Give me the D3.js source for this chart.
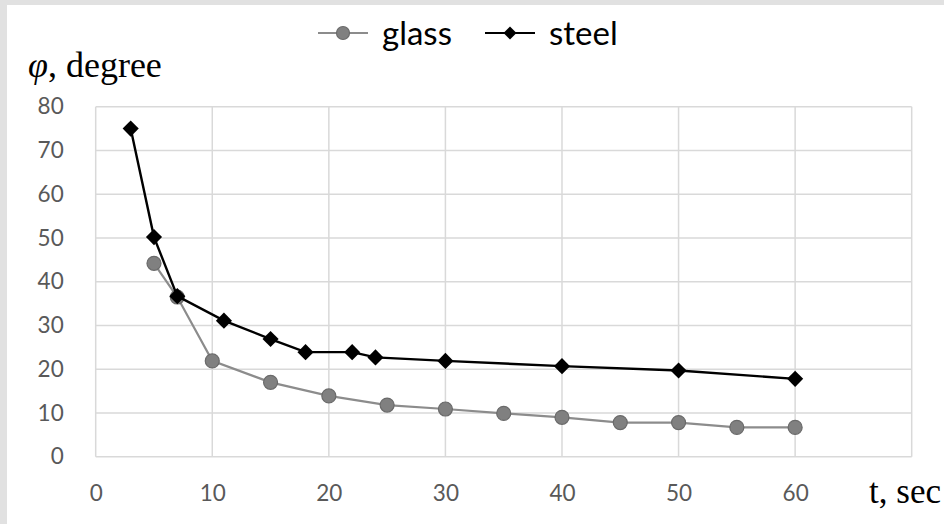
<!DOCTYPE html>
<html><head><meta charset="utf-8">
<script src="https://cdn.jsdelivr.net/npm/d3@7"></script>
<style>html,body{margin:0;padding:0;background:#e1e1e1;}svg{display:block;}</style>
</head><body>
<script>
const glassT = [5, 7, 10, 15, 20, 25, 30, 35, 40, 45, 50, 55, 60];
const glassPhi = [44.2, 36.5, 21.9, 17.0, 13.9, 11.8, 10.9, 9.9, 9.0, 7.8, 7.8, 6.7, 6.7];
const steelT = [3, 5, 7, 11, 15, 18, 22, 24, 30, 40, 50, 60];
const steelPhi = [75, 50.2, 36.7, 31.1, 26.9, 23.9, 23.9, 22.7, 21.9, 20.7, 19.7, 17.8];
const xTicks = [0, 10, 20, 30, 40, 50, 60];
const yTicks = [0, 10, 20, 30, 40, 50, 60, 70, 80];
const seriesNames = ["glass", "steel"];

const W = 944, H = 524;
const svg = d3.select("body").append("svg").attr("width", W).attr("height", H);
svg.append("rect").attr("width", W).attr("height", H).attr("fill", "#e1e1e1");
svg.append("rect").attr("x", 7).attr("y", 5).attr("width", W - 7).attr("height", H - 5).attr("fill", "#fff");

const x = d3.scaleLinear().domain([0, 70]).range([95.7, 911.7]);
const y = d3.scaleLinear().domain([0, 80]).range([456.7, 106.7]);

const grid = svg.append("g");
grid.selectAll("line.h").data(yTicks).join("line")
  .attr("x1", x(0)).attr("x2", x(70)).attr("y1", d => y(d)).attr("y2", d => y(d))
  .attr("stroke", "#d9d9d9").attr("stroke-width", 1.5);
grid.selectAll("line.v").data(d3.range(0, 71, 10)).join("line")
  .attr("y1", y(0)).attr("y2", y(80)).attr("x1", d => x(d)).attr("x2", d => x(d))
  .attr("stroke", "#d9d9d9").attr("stroke-width", 1.5);

const tickFont = "Lato, 'Open Sans', sans-serif";
const xAxis = d3.axisBottom(x).tickValues(xTicks).tickSize(0).tickPadding(28);
const gx = svg.append("g").attr("transform", `translate(0,${y(0)})`).call(xAxis);
gx.select(".domain").remove();
gx.selectAll("text").attr("font-family", tickFont).attr("font-size", 22.5).attr("fill", "#595959");

const yAxis = d3.axisLeft(y).tickValues(yTicks).tickSize(0).tickPadding(32);
const gy = svg.append("g").attr("transform", `translate(${x(0)},0)`).call(yAxis);
gy.select(".domain").remove();
gy.selectAll("text").attr("font-family", tickFont).attr("font-size", 22.5).attr("fill", "#595959");

const glass = glassT.map((t, i) => ({t, v: glassPhi[i]}));
const steel = steelT.map((t, i) => ({t, v: steelPhi[i]}));
const line = d3.line().x(d => x(d.t)).y(d => y(d.v));

svg.append("path").datum(glass).attr("d", line).attr("fill", "none").attr("stroke", "#8c8c8c").attr("stroke-width", 2.2);
svg.append("g").selectAll("circle").data(glass).join("circle")
  .attr("cx", d => x(d.t)).attr("cy", d => y(d.v)).attr("r", 7)
  .attr("fill", "#808080").attr("stroke", "#6a6a6a").attr("stroke-width", 1.2);

svg.append("path").datum(steel).attr("d", line).attr("fill", "none").attr("stroke", "#000").attr("stroke-width", 2.4);
svg.append("g").selectAll("path").data(steel).join("path")
  .attr("d", d3.symbol().type(d3.symbolSquare).size(130))
  .attr("transform", d => `translate(${x(d.t)},${y(d.v)}) rotate(45)`)
  .attr("fill", "#000");

// legend
const leg = svg.append("g");
const legX = [318, 485];
seriesNames.forEach((name, i) => {
  const g = leg.append("g").attr("transform", `translate(${legX[i]},33)`);
  g.append("line").attr("x1", 0).attr("x2", 50).attr("y1", 0).attr("y2", 0)
    .attr("stroke", i === 0 ? "#8c8c8c" : "#000").attr("stroke-width", 2.2);
  if (i === 0) {
    g.append("circle").attr("cx", 25).attr("cy", 0).attr("r", 6.5).attr("fill", "#808080").attr("stroke", "#6a6a6a").attr("stroke-width", 1.2);
  } else {
    g.append("path").attr("d", d3.symbol().type(d3.symbolSquare).size(85)).attr("transform", "translate(25,0) rotate(45)").attr("fill", "#000");
  }
  g.append("text").attr("x", 64).attr("y", 0).attr("dy", "0.35em").text(name)
    .attr("font-family", tickFont).attr("font-size", 33).attr("fill", "#000");
});

svg.append("text").attr("x", 28).attr("y", 77)
  .attr("font-family", "'Liberation Serif', 'Times New Roman', serif").attr("font-size", 36).attr("fill", "#000")
  .call(t => { t.append("tspan").attr("font-style", "italic").text("φ"); t.append("tspan").text(", degree"); });
svg.append("text").attr("x", 941).attr("y", 503).attr("text-anchor", "end")
  .attr("font-family", "'Liberation Serif', 'Times New Roman', serif").attr("font-size", 35).attr("fill", "#000")
  .text("t, sec");
</script>
</body></html>
